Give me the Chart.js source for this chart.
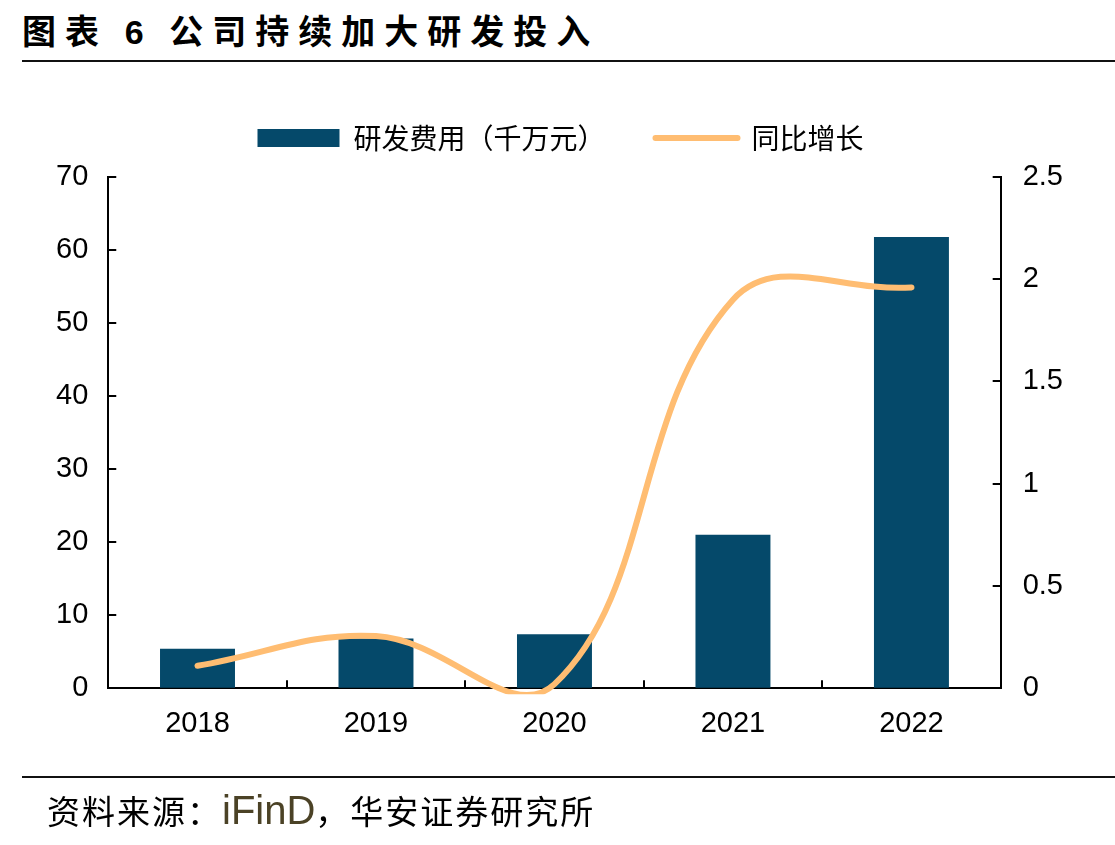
<!DOCTYPE html>
<html lang="zh-CN">
<head>
  <meta charset="UTF-8" />
  <title>图表 6 公司持续加大研发投入</title>
  <script src="https://cdn.jsdelivr.net/npm/chart.js"></script>
  <style>
    html, body { margin: 0; padding: 0; background: #fff; }
    #wrap { position: relative; width: 1115px; height: 845px; overflow: hidden; }
    #chart { position: absolute; left: 0; top: 0; }
    .title { position: absolute; left: 22px; top: 5px; font: bold 34px "Noto Sans CJK SC", sans-serif; letter-spacing: 9px; color: #000; white-space: nowrap; }
    .title .num { font-family: "Liberation Sans", Arial, sans-serif; }
    .rule { position: absolute; left: 22px; right: 0; height: 2px; background: #111; }
    .source { position: absolute; left: 47px; top: 786px; line-height: 48px; font: 33px/48px "Noto Sans CJK SC", sans-serif; letter-spacing: 2px; color: #000; white-space: nowrap; }
    .source .brand { font-family: "Liberation Sans", Arial, sans-serif; font-size: 40px; letter-spacing: 0; color: #4b4226; }
  </style>
</head>
<body>
  <div id="wrap">
    <div class="title">图表 <span class="num">6</span> 公司持续加大研发投入</div>
    <div class="rule" style="top:60px"></div>
    <canvas id="chart" width="1115" height="845"></canvas>
    <div class="rule" style="top:776px"></div>
    <div class="source">资料来源：<span class="brand">iFinD</span>，华安证券研究所</div>
  </div>

  <script>
    // data
    const years = ['2018', '2019', '2020', '2021', '2022'];
    const rdSpend = [5.4, 6.8, 7.4, 21.0, 61.8];      // 研发费用（千万元）
    const yoyGrowth = [0.11, 0.255, 0.02, 1.90, 1.96]; // 同比增长

    const barColor = '#05496a';
    const lineColor = '#ffbd72';
    const tickFont = { family: '"Liberation Sans", Arial, sans-serif', size: 29 };

    // short tick marks pointing into the plot, like the original
    const innerTicks = {
      id: 'innerTicks',
      afterDatasetsDraw(chart) {
        const { ctx, chartArea: a, scales } = chart;
        ctx.save();
        ctx.strokeStyle = '#000';
        ctx.lineWidth = 2;
        ctx.beginPath();
        scales.y.ticks.forEach(t => {
          const py = Math.round(scales.y.getPixelForValue(t.value));
          ctx.moveTo(a.left, py); ctx.lineTo(a.left + 8, py);
        });
        scales.y1.ticks.forEach(t => {
          const py = Math.round(scales.y1.getPixelForValue(t.value));
          ctx.moveTo(a.right, py); ctx.lineTo(a.right - 8, py);
        });
        for (let i = 0; i < years.length - 1; i++) {
          const px = Math.round((scales.x.getPixelForValue(i) + scales.x.getPixelForValue(i + 1)) / 2);
          ctx.moveTo(px, a.bottom); ctx.lineTo(px, a.bottom - 8);
        }
        ctx.stroke();
        ctx.restore();
      }
    };

    // a bit more room between the legend and the plot
    const legendGap = {
      id: 'legendGap',
      afterInit(chart) {
        const lg = chart.legend;
        if (!lg) return;
        const fit = lg.fit;
        lg.fit = function () { fit.call(this); this.height += 15; };
      }
    };

    new Chart(document.getElementById('chart'), {
      data: {
        labels: years,
        datasets: [
          {
            type: 'line',
            label: '同比增长',
            data: yoyGrowth,
            yAxisID: 'y1',
            borderColor: lineColor,
            borderWidth: 6,
            borderCapStyle: 'round',
            tension: 0.4,
            capBezierPoints: false,
            pointRadius: 0,
            order: 0,
            clip: 6
          },
          {
            type: 'bar',
            label: '研发费用（千万元）',
            data: rdSpend,
            yAxisID: 'y',
            backgroundColor: barColor,
            barPercentage: 0.42,
            categoryPercentage: 1,
            order: 1
          }
        ]
      },
      options: {
        responsive: false,
        animation: false,
        layout: { padding: { left: 36, right: 30, top: 74, bottom: 86 } },
        plugins: {
          tooltip: { enabled: false },
          legend: {
            position: 'top',
            labels: {
              font: { family: '"Noto Sans CJK SC", sans-serif', size: 28 },
              color: '#000',
              boxHeight: 18,
              boxWidth: 82,
              usePointStyle: true,
              pointStyleWidth: 82,
              padding: 50,
              generateLabels: () => [
                { text: '研发费用（千万元）', fillStyle: barColor, strokeStyle: barColor, lineWidth: 0, pointStyle: 'rect', datasetIndex: 1 },
                { text: '同比增长', fillStyle: lineColor, strokeStyle: lineColor, lineWidth: 6, lineCap: 'round', pointStyle: 'line', datasetIndex: 0 }
              ]
            }
          }
        },
        scales: {
          x: {
            grid: { display: true, drawOnChartArea: false, drawTicks: false },
            border: { display: true, color: '#000', width: 2 },
            ticks: { font: tickFont, color: '#000', padding: 18 }
          },
          y: {
            position: 'left',
            min: 0, max: 70,
            grid: { display: true, drawOnChartArea: false, drawTicks: false },
            border: { display: true, color: '#000', width: 2 },
            ticks: { stepSize: 10, font: tickFont, color: '#000', padding: 20 }
          },
          y1: {
            position: 'right',
            min: 0, max: 2.5,
            grid: { display: true, drawOnChartArea: false, drawTicks: false },
            border: { display: true, color: '#000', width: 2 },
            ticks: { stepSize: 0.5, font: tickFont, color: '#000', padding: 22, callback: v => String(v) }
          }
        }
      },
      plugins: [innerTicks, legendGap]
    });
  </script>
</body>
</html>
